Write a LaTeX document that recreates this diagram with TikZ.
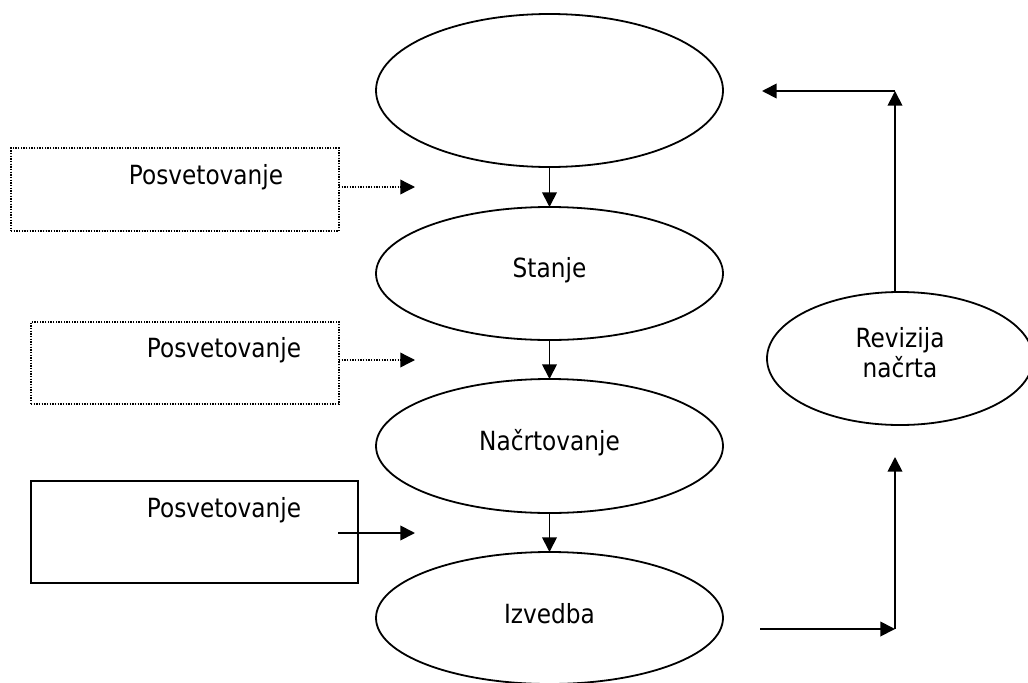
\documentclass[tikz,border=0pt]{standalone}
\usepackage{fontspec}
\setmainfont{DejaVu Sans}[FakeStretch=0.88]
\usetikzlibrary{arrows.meta,shapes.geometric}
\begin{document}
\begin{tikzpicture}[x=0.75pt,y=-0.75pt,
  font=\fontsize{19.8}{22.5}\selectfont,
  ln/.style={line width=1.35pt},
  el/.style={draw, ellipse, ln, inner sep=0pt, outer sep=0pt, minimum width=260.25pt, align=center, text depth=9.5pt},
  bx/.style={draw, rectangle, inner sep=0pt, outer sep=0pt},
  dotbox/.style={bx, line width=1pt, dash pattern=on 1pt off 1pt},
  solbox/.style={bx, ln},
  arr/.style={ln, -{Triangle[length=11pt,width=11pt]}},
  dotarr/.style={line width=1pt, dash pattern=on 1pt off 1pt, -{Triangle[length=11pt,width=11pt]}},
  lbl/.style={inner sep=0pt}
]
\useasboundingbox (0,0) rectangle (1028,682);
\clip (0,0) rectangle (1028,682);

% ellipses
\node[el, minimum height=114.75pt] (top) at (549.5,90.5) {};
\node[el, minimum height=99.75pt] (stanje) at (549.5,273.5) {Stanje};
\node[el, minimum height=100.5pt] (nacrt) at (549.5,446) {Načrtovanje};
\node[el, minimum height=99pt, text depth=7pt] (izv) at (549.5,618) {Izvedba};
\node[el, minimum width=199.5pt, minimum height=99.75pt] (rev) at (900,358.5) {Revizija\\načrta};

% boxes
\node[dotbox, minimum width=246pt, minimum height=62.25pt] (b1) at (175,189.5) {};
\node[dotbox, minimum width=231pt, minimum height=61.5pt] (b2) at (185,363) {};
\node[solbox, minimum width=245.25pt, minimum height=76.5pt] (b3) at (194.5,532) {};
\node[lbl] (t1) at (206,177) {Posvetovanje};
\node[lbl] (t2) at (224,350) {Posvetovanje};
\node[lbl] (t3) at (224,510) {Posvetovanje};

% free ends
\coordinate (e1) at (415,187);
\coordinate (e2) at (415,360);
\coordinate (s3) at (338,533);
\coordinate (e3) at (415,533);
\coordinate (s4) at (760,629);
\coordinate (c4) at (895,629);
\coordinate (c5) at (895,457);
\coordinate (c6) at (895,91);
\coordinate (e6) at (762,91);

% vertical chain
\draw[arr] (top.south) -- (stanje.north);
\draw[arr] (stanje.south) -- (nacrt.north);
\draw[arr] (nacrt.south) -- (izv.north);

% consultations
\draw[dotarr] (b1.east |- e1) -- (e1);
\draw[dotarr] (b2.east |- e2) -- (e2);
\draw[arr] (s3) -- (e3);

% revision loop
\draw[arr] (s4) -- (c4);
\draw[arr] (c4) -- (c5);
\draw[arr] (rev.north -| c6) -- (c6);
\draw[arr] (c6) -- (e6);
\end{tikzpicture}
\end{document}
